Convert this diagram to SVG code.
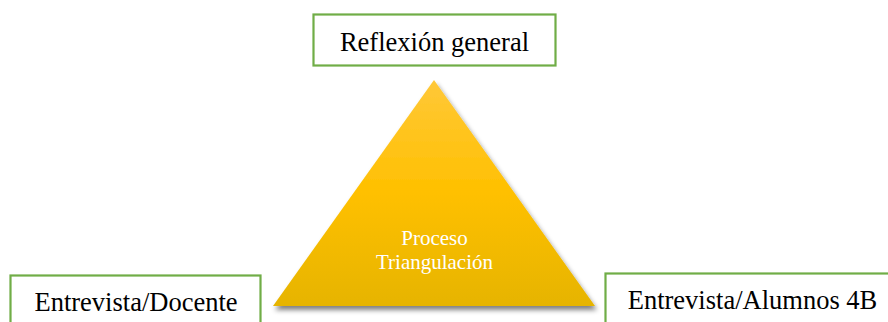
<svg xmlns="http://www.w3.org/2000/svg" width="888" height="322" viewBox="0 0 888 322">
<style>
.box{fill:#fff;stroke:#70AD47;stroke-width:2.2}
.lbl{font-family:"Liberation Serif","Times New Roman",serif;font-size:26.5px;fill:#000;text-anchor:middle}
.tri-lbl{font-family:"Liberation Serif","Times New Roman",serif;font-size:21px;fill:#fff;text-anchor:middle}
</style>
<defs>
<linearGradient id="g" x1="0" y1="0" x2="0" y2="1">
<stop offset="0" stop-color="#FFC838"/>
<stop offset="0.5" stop-color="#FFC000"/>
<stop offset="1" stop-color="#E6B400"/>
</linearGradient>
<filter id="sh" x="-10%" y="-10%" width="125%" height="130%">
<feGaussianBlur in="SourceAlpha" stdDeviation="2.5"/>
<feOffset dx="2" dy="4" result="b"/>
<feComponentTransfer><feFuncA type="linear" slope="0.5"/></feComponentTransfer>
<feMerge><feMergeNode/><feMergeNode in="SourceGraphic"/></feMerge>
</filter>
</defs>
<rect width="888" height="322" fill="#fff"/>
<g id="triangle">
<polygon points="434,80 595,306 273,306" fill="url(#g)" filter="url(#sh)"/>
<text class="tri-lbl" x="434.5" y="245">Proceso</text>
<text class="tri-lbl" x="434.5" y="269">Triangulación</text>
</g>
<g id="reflexion">
<rect class="box" x="313.5" y="14.5" width="242" height="51"/>
<text class="lbl" x="434.5" y="51">Reflexión general</text>
</g>
<g id="docente">
<rect class="box" x="10.5" y="275.5" width="250" height="60"/>
<text class="lbl" x="136" y="311">Entrevista/Docente</text>
</g>
<g id="alumnos">
<rect class="box" x="605.5" y="273.5" width="300" height="60"/>
<text class="lbl" x="752.5" y="309">Entrevista/Alumnos 4B</text>
</g>
<g id="connectors"></g>
</svg>
